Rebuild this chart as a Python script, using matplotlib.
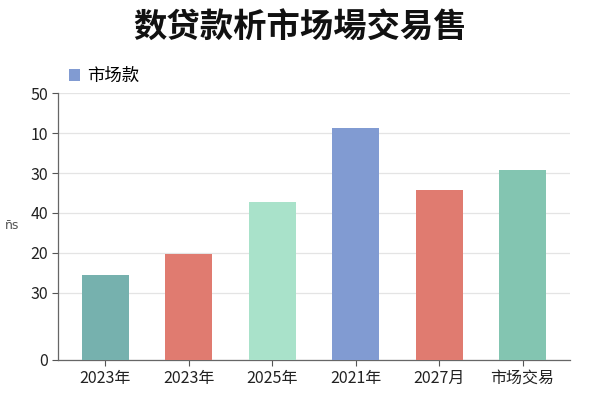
import matplotlib
matplotlib.use("Agg")
import matplotlib.pyplot as plt
from matplotlib.patches import Patch

plt.rcParams['font.family'] = ['Noto Sans CJK SC', 'DejaVu Sans']

categories = ["2023年", "2023年", "2025年", "2021年", "2027月", "市场交易"]
values = [15.9, 19.8, 29.6, 43.5, 31.8, 35.6]
colors = ["#76b1ae", "#e07b70", "#a9e2ca", "#819bd2", "#e07b70", "#83c5b1"]
ytick_pos = [0, 12.55, 20.05, 27.55, 35.0, 42.5, 50]
ytick_labels = ["0", "30", "20", "40", "30", "10", "50"]
title = "数贷款析市场場交易售"
legend_label = "市场款"
ylabel = "n\u0304s"

fig = plt.figure(figsize=(6, 4), dpi=100)
ax = fig.add_axes([58/600, 1-360/400, (570-58)/600, (360-93)/400])

x = list(range(len(categories)))
ax.bar(x, values, width=0.565, color=colors, zorder=3)
ax.set_xlim(-0.569, len(categories) - 1 + 0.569)
ax.set_ylim(0, 50)
ax.set_yticks(ytick_pos)
ax.set_yticklabels(ytick_labels)
ax.set_xticks(x)
ax.set_xticklabels(categories)
ax.tick_params(axis='both', labelsize=11.5, colors='#555555', labelcolor='#222222', length=4, width=0.8)
ax.tick_params(axis='y', pad=3)
ax.tick_params(axis='x', pad=3)
ax.grid(axis='y', color='#e4e4e4', linewidth=0.9, zorder=0)
for s in ['top', 'right']:
    ax.spines[s].set_visible(False)
for s in ['left', 'bottom']:
    ax.spines[s].set_color('#666666')
    ax.spines[s].set_linewidth(0.9)

fig.text(0.5, 1-28/400, title, ha='center', va='center', fontsize=24, fontweight='heavy', color='#111111')
fig.text(12/600, 1-226/400, ylabel, ha='center', va='center', fontsize=9, color='#555555', family=['DejaVu Sans'])

handles = [Patch(facecolor="#819bd2", edgecolor='none')]
fig.legend(handles, [legend_label], loc='center left', bbox_to_anchor=(69/600, 1-76/400),
           frameon=False, fontsize=12.5, handlelength=0.65, handleheight=0.65, handletextpad=0.4,
           borderpad=0, borderaxespad=0)

fig.savefig("out.png", dpi=100)
